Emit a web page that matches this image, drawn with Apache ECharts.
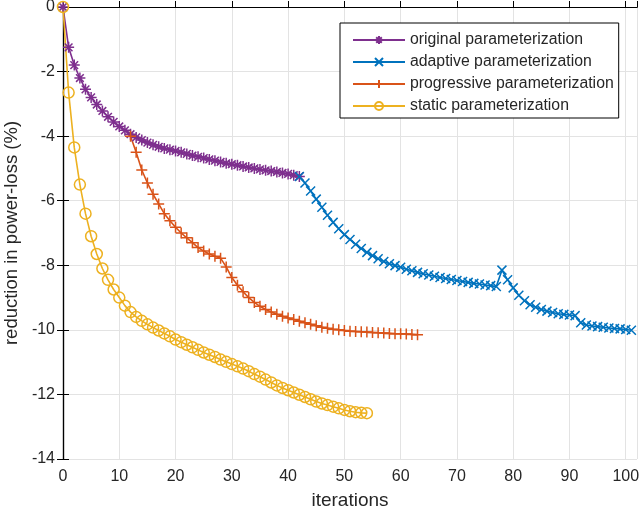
<!DOCTYPE html>
<html>
<head>
<meta charset="utf-8">
<script src="https://cdn.jsdelivr.net/npm/echarts@6/dist/echarts.min.js"></script>
<style>
  html, body { margin: 0; padding: 0; background: #fff; }
  #chart { width: 641px; height: 515px; }
</style>
</head>
<body>
<div id="chart"></div>
<script>
  // iteration where each run starts, and the values
  var originalStart = 0;
  var original = [0, -1.25, -1.8, -2.2, -2.55, -2.8, -3.02, -3.22, -3.4, -3.56, -3.7,
    -3.82, -3.94, -4.04, -4.12, -4.2, -4.27, -4.33, -4.38, -4.42, -4.46,
    -4.5, -4.55, -4.6, -4.64, -4.68, -4.72, -4.76, -4.8, -4.84, -4.87,
    -4.9, -4.94, -4.97, -5.0, -5.03, -5.06, -5.08, -5.11, -5.14, -5.17,
    -5.21, -5.25];

  var adaptiveStart = 42;
  var adaptive = [-5.25, -5.45, -5.7, -5.95, -6.2, -6.45, -6.67, -6.87, -7.05,
    -7.2, -7.35, -7.48, -7.6, -7.7, -7.8, -7.88, -7.95, -8.01, -8.06,
    -8.12, -8.17, -8.22, -8.26, -8.3, -8.34, -8.38, -8.41, -8.44, -8.47,
    -8.5, -8.53, -8.56, -8.58, -8.61, -8.63, -8.66, -8.15, -8.45, -8.7,
    -8.93, -9.1, -9.22, -9.3, -9.37, -9.42, -9.46, -9.5, -9.52, -9.54,
    -9.56, -9.78, -9.85, -9.88, -9.9, -9.92, -9.94, -9.96, -9.97, -9.99, -10.01];

  var progressiveStart = 12;
  var progressive = [-4.0, -4.5, -5.05, -5.45, -5.8, -6.1, -6.4, -6.62, -6.82,
    -7.0, -7.15, -7.3, -7.45, -7.56, -7.65, -7.72, -7.78, -8.05, -8.38,
    -8.62, -8.82, -9.0, -9.15, -9.27, -9.37, -9.45, -9.52, -9.58, -9.63,
    -9.68, -9.73, -9.78, -9.83, -9.87, -9.92, -9.95, -9.98, -10.0, -10.02,
    -10.04, -10.05, -10.06, -10.07, -10.08, -10.09, -10.1, -10.11, -10.12,
    -10.12, -10.13, -10.14, -10.15];

  var staticStart = 0;
  var staticRun = [0, -2.65, -4.35, -5.5, -6.4, -7.1, -7.65, -8.1, -8.45, -8.75,
    -9.0, -9.25, -9.45, -9.6, -9.72, -9.83, -9.93, -10.02, -10.11, -10.2,
    -10.3, -10.38, -10.46, -10.54, -10.62, -10.7, -10.77, -10.84, -10.92,
    -10.99, -11.06, -11.13, -11.2, -11.28, -11.37, -11.45, -11.54, -11.63,
    -11.72, -11.8, -11.87, -11.94, -12.01, -12.08, -12.15, -12.22, -12.28,
    -12.33, -12.38, -12.43, -12.48, -12.52, -12.55, -12.57, -12.58];

  var seriesNames = ['original parameterization', 'adaptive parameterization',
    'progressive parameterization', 'static parameterization'];
  var xTicks = [0, 10, 20, 30, 40, 50, 60, 70, 80, 90, 100];

  function pairs(start, values) {
    return values.map(function (v, i) { return [start + i, v]; });
  }

  var font = '"Liberation Sans", Arial, sans-serif';
  var asterisk = 'path://M5,0L5,10M0,5L10,5M1.5,1.5L8.5,8.5M8.5,1.5L1.5,8.5';
  var cross = 'path://M0,0L10,10M10,0L0,10';
  var plus = 'path://M5,0L5,10M0,5L10,5';

  function makeSeries(name, data, color, symbol, size) {
    return {
      name: name,
      type: 'line',
      data: data,
      symbol: symbol,
      symbolSize: size,
      showAllSymbol: true,
      lineStyle: { color: color, width: 1.6 },
      itemStyle: { color: 'rgba(0,0,0,0)', borderColor: color, borderWidth: 1.5 },
      emphasis: { disabled: true }
    };
  }

  var chart = echarts.init(document.getElementById('chart'));
  var option = {
    animation: false,
    backgroundColor: '#fff',
    textStyle: { fontFamily: font },
    grid: { left: 63, right: 4, top: 7, bottom: 56, containLabel: false, outerBoundsMode: 'none' },
    legend: {
      orient: 'vertical',
      left: 340,
      top: 23,
      padding: [9, 5, 4, 12],
      itemGap: 6,
      itemWidth: 52,
      itemHeight: 10,
      backgroundColor: '#fff',
      borderColor: '#000',
      borderWidth: 1,
      borderRadius: 0,
      textStyle: { fontSize: 15.8, color: '#262626', fontFamily: font },
      data: seriesNames
    },
    xAxis: [{
      type: 'value',
      min: 0,
      max: 102,
      interval: 10,
      name: 'iterations',
      nameLocation: 'middle',
      nameGap: 32,
      nameTextStyle: { fontSize: 19, color: '#262626' },
      axisLine: { lineStyle: { color: '#000', width: 1.2 } },
      axisTick: { inside: true, length: 6, lineStyle: { color: '#000' } },
      axisLabel: {
        fontSize: 16, color: '#262626', margin: 10,
        formatter: function (v) { return xTicks.indexOf(v) >= 0 ? String(v) : ''; }
      },
      splitLine: { show: true, lineStyle: { color: '#e3e3e3', width: 1 } }
    }, {
      type: 'value',
      position: 'top',
      min: 0,
      max: 102,
      interval: 10,
      axisLine: { show: true, lineStyle: { color: '#000', width: 1.2 } },
      axisTick: { show: false },
      axisLabel: { show: false },
      splitLine: { show: false }
    }],
    yAxis: [{
      type: 'value',
      min: -14,
      max: 0,
      interval: 2,
      name: 'reduction in power-loss (%)',
      nameLocation: 'middle',
      nameGap: 38,
      nameTextStyle: { fontSize: 18.5, color: '#262626' },
      axisLine: { show: true, lineStyle: { color: '#000', width: 1.2 } },
      axisTick: { show: true, inside: true, length: 6, lineStyle: { color: '#000' } },
      axisLabel: { fontSize: 16, color: '#262626', margin: 8 },
      splitLine: { show: true, lineStyle: { color: '#e3e3e3', width: 1 } }
    }, {
      type: 'value',
      position: 'right',
      min: -14,
      max: 0,
      interval: 2,
      axisLine: { show: true, lineStyle: { color: '#000', width: 1.2 } },
      axisTick: { show: true, inside: true, length: 6, lineStyle: { color: '#000' } },
      axisLabel: { show: false },
      splitLine: { show: false }
    }],
    series: [
      makeSeries(seriesNames[0], pairs(originalStart, original), '#7E2F8E', asterisk, 11),
      makeSeries(seriesNames[1], pairs(adaptiveStart, adaptive), '#0072BD', cross, 9),
      makeSeries(seriesNames[2], pairs(progressiveStart, progressive), '#D95319', plus, 11),
      makeSeries(seriesNames[3], pairs(staticStart, staticRun), '#EDB120', 'circle', 11)
    ]
  };
  chart.setOption(option);
</script>
</body>
</html>
